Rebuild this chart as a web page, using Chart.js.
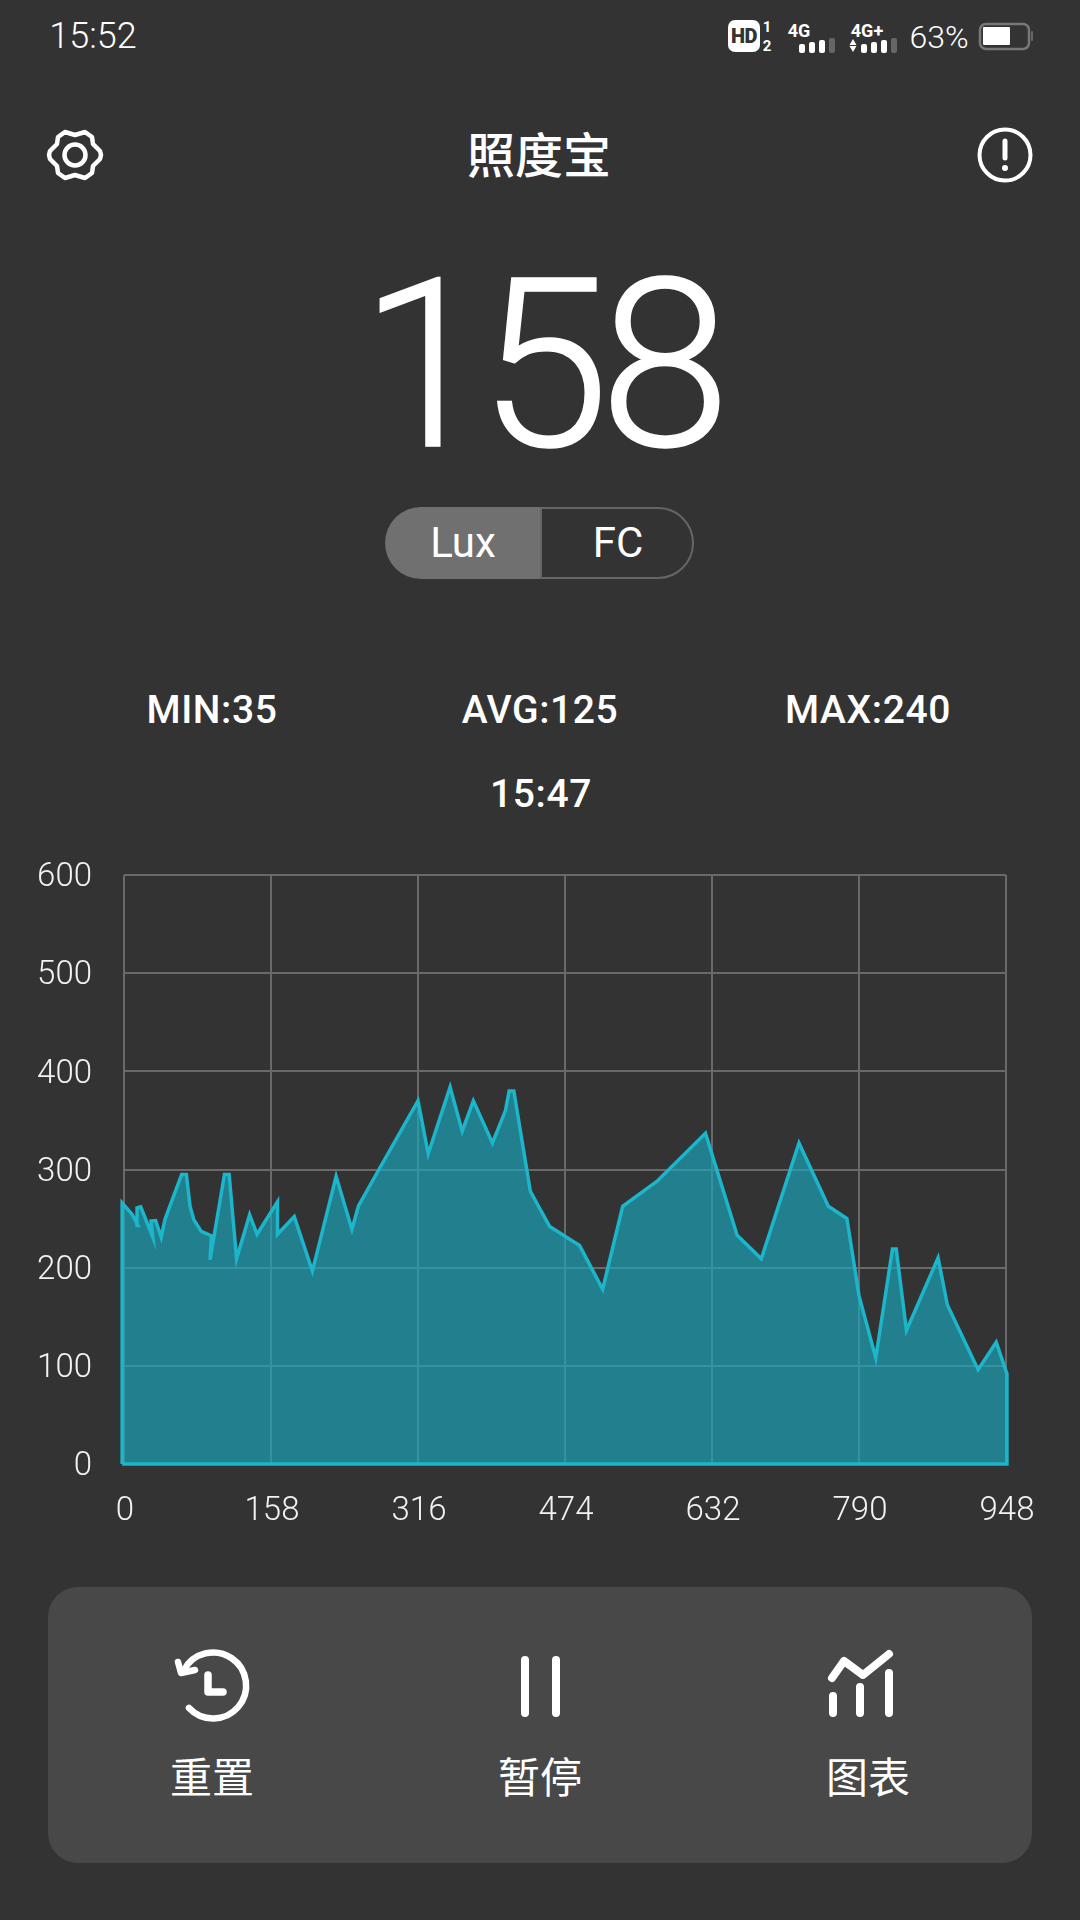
<!DOCTYPE html>
<html>
<head>
<meta charset="utf-8">
<script src="https://cdn.jsdelivr.net/npm/chart.js@4"></script>
<style>
  html, body { margin: 0; padding: 0; }
  body { width: 1080px; height: 1920px; background: #333333; position: relative; overflow: hidden;
         font-family: Roboto, "Noto Sans CJK SC", sans-serif; color: #fff; }
  .t { position: absolute; white-space: nowrap; line-height: 1; transform: translate(-50%, -50%); }
  .cjk { font-family: "Noto Sans CJK SC", sans-serif; }
  .stat { font-size: 39px; font-weight: 500; letter-spacing: 0.6px; top: 710px; }
  svg { position: absolute; left: 0; top: 0; }
  #pillLeft { position: absolute; left: 385px; top: 507px; width: 155px; height: 72px; background: #707070; border-radius: 36px 0 0 36px; }
  #pillRight { position: absolute; left: 540px; top: 507px; width: 154px; height: 72px; box-sizing: border-box;
               border: 2px solid #666; border-radius: 0 36px 36px 0; }
  #panel { position: absolute; left: 48px; top: 1587px; width: 984px; height: 276px; background: #484848; border-radius: 30px; }
  #chartBox { position: absolute; left: 0; top: 840px; width: 1080px; height: 700px; }
</style>
</head>
<body>
<div id="panel"></div>
<div id="pillLeft"></div>
<div id="pillRight"></div>

<svg width="1080" height="1920" fill="none" stroke="#fff" stroke-linecap="round" stroke-linejoin="round">
  <!-- status bar -->
  <rect x="728" y="20" width="32" height="32" rx="7" fill="#fff" stroke="none"/>
  <g stroke="none" fill="#fff">
    <rect x="799" y="44" width="6" height="9" rx="2"/><rect x="809" y="42" width="6" height="11" rx="2"/><rect x="819" y="40" width="6" height="13" rx="2"/>
    <rect x="861" y="44" width="6" height="9" rx="2"/><rect x="871" y="42" width="6" height="11" rx="2"/><rect x="881" y="40" width="6" height="13" rx="2"/>
    <path d="M853 39l3.5 6h-7zM853 52l3.5-6h-7z"/>
    <rect x="983" y="27" width="27" height="18" rx="1"/>
  </g>
  <g stroke="none" fill="#666">
    <rect x="829" y="38" width="6" height="15" rx="2"/>
    <rect x="891" y="38" width="6" height="15" rx="2"/>
    <rect x="1031" y="31" width="2" height="10" rx="1"/>
  </g>
  <rect x="980" y="24" width="49" height="25" rx="6" stroke="#777" stroke-width="2.5"/>

  <!-- gear -->
  <circle cx="75" cy="155" r="10.5" stroke-width="4.5"/>
  <polygon stroke-width="4.5" points="75,135 85,132 92,137 93,144 100,151 101,155 100,159 93,166 92,173 85,178 75,175 65,178 58,173 57,166 50,159 49,155 50,151 57,144 58,137 65,132"/>
  <!-- info -->
  <circle cx="1005" cy="155" r="25.5" stroke-width="4"/>
  <path stroke-width="5" d="M1005 141V158"/>
  <circle cx="1005" cy="168" r="2" fill="#fff" stroke-width="2"/>

  <!-- reset -->
  <path stroke-width="6.5" d="M184 1670 A33 33 0 1 1 189 1708"/>
  <path stroke-width="6.5" d="M178 1662 L181 1673 L195 1670"/>
  <path stroke-width="7.5" d="M208 1675 V1692 H223"/>
  <!-- pause -->
  <path stroke-width="8" d="M525 1660V1713M556 1660V1713"/>
  <!-- chart icon -->
  <path stroke-width="8" d="M833 1696V1713M860 1687V1713M889 1673V1713"/>
  <path stroke-width="8" d="M832 1678L844 1661L863 1675L889 1654"/>
</svg>

<div class="t" style="left:93px;top:36px;font-size:36px;font-weight:300">15:52</div>
<div class="t" style="left:939px;top:37px;font-size:32px;font-weight:300">63%</div>
<div class="t" style="left:744px;top:36px;font-size:20px;font-weight:900;color:#333;letter-spacing:-0.5px">HD</div>
<div class="t" style="left:767px;top:27px;font-size:15px;font-weight:700">1</div>
<div class="t" style="left:767px;top:46px;font-size:15px;font-weight:700">2</div>
<div class="t" style="left:799px;top:31px;font-size:18px;font-weight:700">4G</div>
<div class="t" style="left:867px;top:31px;font-size:18px;font-weight:700">4G+</div>

<div class="t cjk" style="left:539px;top:152px;font-size:48px;font-weight:500">照度宝</div>
<div class="t" style="left:545px;top:366px;font-size:236px;font-weight:300;-webkit-text-stroke:1.5px #fff"><span style="letter-spacing:-12px">1</span><span style="letter-spacing:-10px">5</span>8</div>
<div class="t" style="left:463px;top:543px;font-size:42px;font-weight:400">Lux</div>
<div class="t" style="left:618px;top:543px;font-size:42px;font-weight:400">FC</div>
<div class="t stat" style="left:212px">MIN:35</div>
<div class="t stat" style="left:540px">AVG:125</div>
<div class="t stat" style="left:868px">MAX:240</div>
<div class="t stat" style="left:541px;top:794px">15:47</div>

<div class="t cjk" style="left:212px;top:1775px;font-size:42px;font-weight:400">重置</div>
<div class="t cjk" style="left:540px;top:1775px;font-size:42px;font-weight:400">暂停</div>
<div class="t cjk" style="left:868px;top:1775px;font-size:42px;font-weight:400">图表</div>

<div id="chartBox"><canvas id="luxChart" width="1080" height="700"></canvas></div>

<script>
// valores
const xValues = [-2, -2, 9, 15, 14, 18, 31, 29, 34, 40, 44, 51, 62, 67, 71, 75, 83, 94, 92.5, 108, 113, 121, 135, 143, 165, 165, 183, 202.5, 228, 245, 252, 274, 316, 327, 350.5, 363.5, 375.5, 396, 410, 414, 419, 436.7, 447, 457.5, 489.7, 514.5, 536, 573, 625, 659, 685, 725.5, 757, 777, 790, 808, 826, 830, 841, 875, 885, 918, 937.5, 949, 949];
const luxValues = [0, 266, 254, 243, 261, 262, 231, 247.5, 248, 231, 249, 267, 295, 295, 262.5, 249, 237, 232.5, 208, 295, 295, 209, 254, 234, 267, 234, 252, 196.5, 293, 239, 263, 300, 370, 316, 384, 339, 370, 327, 360, 380, 380, 278, 260, 242, 222.5, 178, 262.5, 288, 337, 233, 209, 327, 262.5, 250, 171.5, 108, 219, 219, 136, 210, 162, 96, 124, 92, 0];
const xTicks = [0, 158, 316, 474, 632, 790, 948];
const yTicks = [0, 100, 200, 300, 400, 500, 600];

const GRID = '#696969';
const TICK_FONT = { family: 'Roboto', size: 33, weight: '300' };

const points = xValues.map((x, i) => ({ x: x, y: luxValues[i] }));
// contorno fecha de volta na origem; a área usa só os pontos abertos
const outline = points.concat([points[0]]);

new Chart(document.getElementById('luxChart').getContext('2d'), {
  type: 'line',
  data: {
    datasets: [
      {
        data: outline,
        borderColor: '#1cb5c9',
        borderWidth: 3.5,
        pointRadius: 0,
        tension: 0,
        fill: false,
        clip: false
      },
      {
        data: points,
        borderWidth: 0,
        backgroundColor: 'rgba(25,169,192,0.65)',
        pointRadius: 0,
        tension: 0,
        fill: 'origin',
        clip: false
      }
    ]
  },
  options: {
    responsive: false,
    animation: false,
    events: [],
    layout: { autoPadding: false, padding: { left: 0, top: 35, right: 74, bottom: 0 } },
    plugins: { legend: { display: false }, tooltip: { enabled: false }, title: { display: false } },
    scales: {
      x: {
        type: 'linear',
        min: xTicks[0],
        max: xTicks[xTicks.length - 1],
        afterFit: s => { s.height = 76; },
        afterBuildTicks: s => { s.ticks = xTicks.map(v => ({ value: v })); },
        grid: { color: GRID, lineWidth: 2, drawTicks: false },
        border: { display: false },
        ticks: { color: '#f2f2f2', font: TICK_FONT, padding: 28, maxRotation: 0, autoSkip: false, labelOffset: 1 }
      },
      y: {
        min: yTicks[0],
        max: yTicks[yTicks.length - 1],
        // o padding dos ticks empurrava o topo da área para baixo
        afterFit: s => { s.width = 124; s.paddingTop = 0; s.paddingBottom = 0; },
        afterBuildTicks: s => { s.ticks = yTicks.map(v => ({ value: v })); },
        grid: { color: GRID, lineWidth: 2, drawTicks: false },
        border: { display: false },
        ticks: { color: '#f2f2f2', font: TICK_FONT, padding: 32, autoSkip: false, labelOffset: 3 }
      }
    }
  }
});
</script>
</body>
</html>
